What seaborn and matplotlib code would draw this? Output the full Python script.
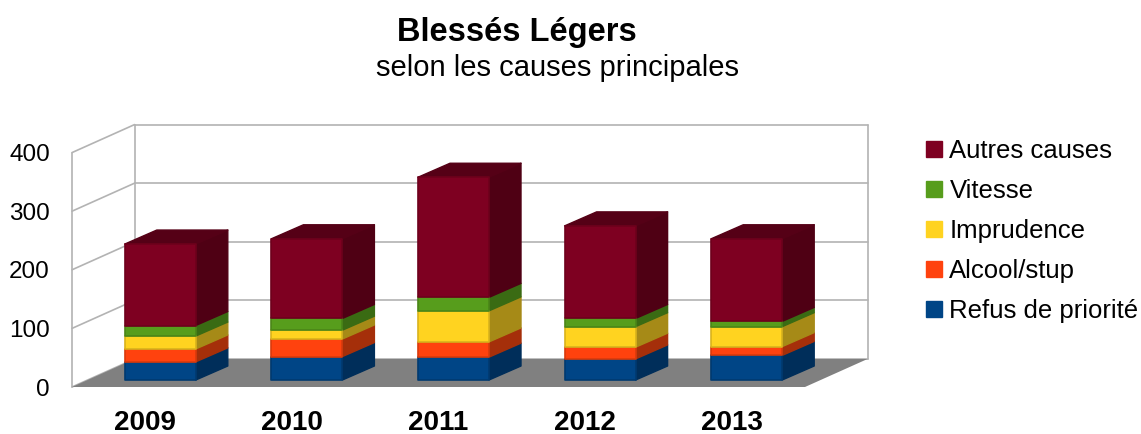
import matplotlib
matplotlib.use('Agg')
import matplotlib.pyplot as plt
from matplotlib.patches import Patch
import numpy as np
import seaborn as sns

# Values
years = ['2009', '2010', '2011', '2012', '2013']
refus = [31, 40, 39, 36, 42]
alcool = [22, 30, 26, 20, 15]
imprudence = [22, 15, 53, 35, 34]
vitesse = [18, 20, 23, 14, 9]
autres = [139, 136, 205, 158, 141]

series_names = ['Refus de priorité', 'Alcool/stup', 'Imprudence', 'Vitesse', 'Autres causes']
series_values = [refus, alcool, imprudence, vitesse, autres]
front_colors = ['#004586', '#ff420e', '#ffd320', '#579d1c', '#7e0021']
side_colors = ['#002e5a', '#a52f0a', '#a68a17', '#3a6b13', '#4f0014']
edge_colors = ['#003a70', '#d93a0c', '#d9b31c', '#4a8618', '#6e001c']
top_color = '#550016'
y_ticks = [0, 100, 200, 300, 400]

W, H = 1141, 434
PX_X = 146.6  # pixels per category
PX_Y = 0.586  # pixels per unit

# depth of the box, of the bars, and where the bars stand on the floor
box_dx, box_dy = 62.5 / PX_X, 28 / PX_Y
bar_dx, bar_dy = 32 / PX_X, 14 / PX_Y
shift_x, shift_y = 15 / PX_X, 7 / PX_Y
bar_width = 71 / PX_X

sns.set_theme(style='white')
plt.rcParams['font.family'] = ['Liberation Sans', 'DejaVu Sans']

fig = plt.figure(figsize=(W / 100, H / 100), dpi=100)
ax = fig.add_axes([72 / W, (H - 387) / H, 733 / W, 234.4 / H])
ax.patch.set_alpha(0)

# Walls and floor
grid = dict(color='#b3b3b3', lw=1.2, zorder=1, clip_on=False)
x0, x1 = -0.5, 4.5
for v in y_ticks:
    ax.plot([x0 + box_dx, x1 + box_dx], [v + box_dy, v + box_dy], **grid)
    ax.plot([x0, x0 + box_dx], [v, v + box_dy], **grid)
ax.plot([x0, x0], [0, 400], **grid)
ax.plot([x0 + box_dx, x0 + box_dx], [box_dy, 400 + box_dy], **grid)
ax.plot([x1 + box_dx, x1 + box_dx], [box_dy, 400 + box_dy], **grid)
ax.fill([x0, x1, x1 + box_dx, x0 + box_dx], [0, 0, box_dy, box_dy],
        color='#808080', lw=0, zorder=2, clip_on=False)

# Stacked bars, front faces by seaborn, sides from the same numbers
bottoms = np.full(len(years), shift_y, dtype=float)
for i, values in enumerate(series_values):
    values = np.array(values, dtype=float)
    sns.barplot(x=years, y=values, bottom=bottoms, color=front_colors[i], saturation=1,
                width=bar_width, errorbar=None, ax=ax, zorder=4,
                edgecolor=edge_colors[i], linewidth=1.2)
    for bar, b, v in zip(ax.containers[-1], bottoms, values):
        bar.set_x(bar.get_x() + shift_x)
        bar.set_joinstyle('round')
        bar.set_clip_on(False)
        xr = bar.get_x() + bar.get_width()
        ax.fill([xr, xr + bar_dx, xr + bar_dx, xr],
                [b, b + bar_dy, b + v + bar_dy, b + v],
                facecolor=side_colors[i], edgecolor=side_colors[i], lw=1,
                joinstyle='round', zorder=3, clip_on=False)
        if i == len(series_values) - 1:
            xl = bar.get_x()
            ax.fill([xl, xr, xr + bar_dx, xl + bar_dx],
                    [b + v, b + v, b + v + bar_dy, b + v + bar_dy],
                    facecolor=top_color, edgecolor=top_color, lw=1,
                    joinstyle='round', zorder=3, clip_on=False)
    bottoms = bottoms + values

ax.set_xlim(x0, x1)
ax.set_ylim(0, 400)
ax.set_yticks(y_ticks)
ax.set_xlabel('')
ax.set_ylabel('')
ax.tick_params(axis='y', length=0, labelsize=17.5, pad=16, labelcolor='black')
ax.tick_params(axis='x', length=0, labelsize=20, pad=16.5, labelcolor='black')
for lab in ax.get_xticklabels():
    lab.set_fontweight('bold')
sns.despine(ax=ax, left=True, bottom=True)

fig.text(516.5 / W, 1 - 32 / H, 'Blessés Légers', fontsize=23.5, fontweight='bold',
         ha='center', va='center', color='black')
fig.text(557 / W, 1 - 68 / H, 'selon les causes principales', fontsize=21,
         ha='center', va='center', color='black')

handles = [Patch(facecolor=c, edgecolor=c, label=n) for c, n in zip(front_colors, series_names)]
fig.legend(handles=handles[::-1], loc='upper left', bbox_to_anchor=(916 / W, 1 - 129 / H),
           frameon=False, fontsize=18.5, labelspacing=0.62, handlelength=0.6, handleheight=0.6,
           handletextpad=0.3, labelcolor='black', borderpad=0.4, borderaxespad=0)

fig.savefig('out.png', dpi=100)
